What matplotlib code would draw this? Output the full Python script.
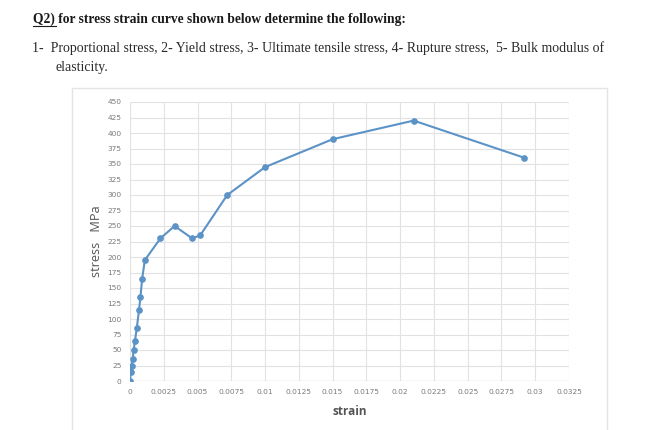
import numpy as np
import matplotlib
matplotlib.use("Agg")
import matplotlib.pyplot as plt
from matplotlib.lines import Line2D
from matplotlib.patches import Rectangle

# values
strain = [0, 0.00005, 0.00012, 0.0002, 0.00027, 0.00037, 0.0005, 0.00067,
          0.00077, 0.0009, 0.0011, 0.00225, 0.0033, 0.0046, 0.0052, 0.0072,
          0.01, 0.015, 0.021, 0.0292]
stress = [0, 15, 25, 35, 50, 65, 85, 115, 135, 165, 195, 230, 250, 230,
          235, 300, 345, 390, 420, 360]
xticks = np.arange(0, 0.0326, 0.0025)
xtick_labels = ["0", "0.0025", "0.005", "0.0075", "0.01", "0.0125", "0.015",
                "0.0175", "0.02", "0.0225", "0.025", "0.0275", "0.03", "0.0325"]
yticks = np.arange(0, 451, 25)

title = "Q2) for stress strain curve shown below determine the following:"
line2 = ("1-  Proportional stress, 2- Yield stress, 3- Ultimate tensile stress, "
         "4- Rupture stress,  5- Bulk modulus of")
line3 = "elasticity."

W, H = 672, 430
fig = plt.figure(figsize=(W / 100, H / 100), dpi=100)
fig.patch.set_facecolor("white")

# chart frame
fig.add_artist(Rectangle((72 / W, -0.01), (607 - 72) / W, 1 - 88 / H + 0.01,
                         transform=fig.transFigure, fill=False,
                         edgecolor="#e4e4e4", lw=1))

ax = fig.add_axes([130 / W, 1 - 381 / H, (569 - 130) / W, (381 - 102) / H])
ax.plot(strain, stress, color="#5b93c7", lw=1.5, marker="o", ms=3.8,
        markerfacecolor="#5b93c7", markeredgecolor="#5b93c7", zorder=3)
ax.set_xlim(0, 0.0325)
ax.set_ylim(0, 450)
ax.set_xticks(xticks)
ax.set_xticklabels(xtick_labels)
ax.set_yticks(yticks)
ax.tick_params(length=0, labelsize=5.4, labelcolor="#7a7a7a", pad=6)
ax.grid(True, color="#e2e2e2", lw=0.8)
ax.set_axisbelow(True)
for s in ax.spines.values():
    s.set_visible(False)
ax.axhline(0, color="#cfcfcf", lw=0.9, zorder=1)

ax.set_xlabel("strain", fontsize=8.5, color="#555555", fontweight="bold",
              labelpad=7, family="Open Sans")
ax.set_ylabel("stress   MPa", fontsize=9.2, color="#555555",
              labelpad=3, family="Open Sans")

fig.text(33 / W, 1 - 19 / H, title, fontsize=9.75, fontweight="bold",
         family="Liberation Serif", color="#1a1a1a", va="center")
fig.add_artist(Line2D([33 / W, 56 / W], [1 - 26 / H, 1 - 26 / H],
                      transform=fig.transFigure, color="#1a1a1a", lw=0.8))
fig.text(32 / W, 1 - 48 / H, line2, fontsize=10.0, family="Liberation Serif",
         color="#2a2a2a", va="center")
fig.text(55 / W, 1 - 67 / H, line3, fontsize=10.0, family="Liberation Serif",
         color="#2a2a2a", va="center")

fig.savefig("out.png", dpi=100)
